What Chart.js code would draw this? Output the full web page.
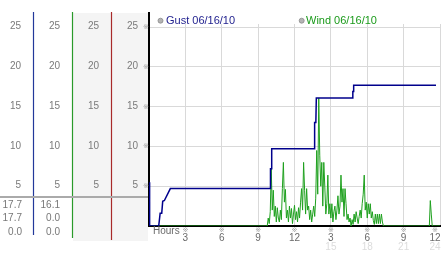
<!DOCTYPE html>
<html>
<head>
<meta charset="utf-8">
<script src="https://cdn.jsdelivr.net/npm/chart.js@4.4.1/dist/chart.umd.min.js"></script>
<style>
html, body { margin: 0; padding: 0; background: #fff; }
</style>
</head>
<body>
<canvas id="myChart" width="442" height="253"></canvas>
<script>
//gust for the day (running max), hours after midnight
var gustHours = [0, 0.05, 0.8, 0.92, 1.05, 1.13, 1.27, 1.76, 10.0, 10.02, 10.1, 10.12, 13.64, 13.66, 13.76, 13.8, 16.79, 16.81, 16.86, 16.88, 23.67];
var gustSpeed = [5.5, 0, 0, 1.6, 1.6, 3.1, 3.2, 4.7, 4.7, 7.2, 7.2, 9.7, 9.7, 13.0, 13.0, 16.1, 16.1, 16.9, 16.9, 17.7, 17.7];
//wind readings every 5 minutes starting 9:45
var windStart = 9.75;
var windStepMinutes = 5;
var windSpeed = [
  0, 1.0, 0.3, 1.8, 7.2, 2.0, 4.5, 1.2, 2.5, 0.5, 2.3, 1.0, 0.5, 2.0, 0.8, 4.7,
  8.0, 3.0, 4.6, 1.0, 2.0, 0.5, 2.5, 1.0, 2.2, 0.3, 1.5, 2.6, 0.8, 1.8, 0.5, 2.3,
  1.0, 3.0, 4.7, 2.0, 8.0, 4.5, 1.5, 4.7, 2.0, 2.5, 0.8, 2.0, 0.5, 1.5, 2.5, 1.2,
  3.5, 9.5, 4.0, 16.1, 8.9, 5.0, 8.0, 2.5, 8.0, 4.9, 1.5, 2.8, 6.4, 1.5, 2.8, 1.0,
  2.8, 0.5, 1.8, 2.5, 0.8, 2.0, 3.8, 1.5, 2.5, 6.4, 3.0, 4.7, 1.2, 4.7, 2.8, 0.8,
  1.5, 0.5, 1.0, 0.0, 0.8, 0.2, 1.5, 0.5, 1.8, 1.0, 0.3, 1.2, 2.0, 1.0, 2.8, 4.0,
  6.4, 2.0, 3.0, 1.0, 2.8, 1.5, 2.8, 1.0, 1.8, 0.7, 0.2, 1.5, 0.3, 1.5, 0.3, 1.5,
  0.3, 1.5, 0.5, 0
];
//calm part of the day and the one late reading
var windOtherHours = [0, 23.12, 23.2, 23.28, 23.36, 24];
var windOtherSpeed = [0, 0, 3.2, 1.5, 0, 0];

var seriesNames = ['Gust 06/16/10', 'Wind 06/16/10'];
var yTicks = [5, 10, 15, 20, 25];
var hourTicks = [3, 6, 9, 12, 15, 18, 21, 24];
var hourLabels = ['3', '6', '9', '12', '3', '6', '9', '12'];
var hourLabels24 = ['', '', '', '', '15', '18', '21', '24'];
var gustStats = ['17.7', '17.7', '0.0'];
var windStats = ['16.1', '0.0', '0.0'];

var FONT = '"Liberation Sans", Arial, sans-serif';

var gustPoints = gustHours.map(function (h, i) { return { x: h, y: gustSpeed[i] }; });
var windPoints = windSpeed.map(function (v, i) { return { x: windStart + i * windStepMinutes / 60, y: v }; });
windOtherHours.forEach(function (h, i) { windPoints.push({ x: h, y: windOtherSpeed[i] }); });
windPoints.sort(function (a, b) { return a.x - b.x; });

//draws the left value columns, legend and hour labels
var panelPlugin = {
  id: 'panel',
  beforeDraw: function (chart) {
    var c = chart.ctx, area = chart.chartArea;
    c.save();
    c.fillStyle = '#f4f4f4';
    c.fillRect(73, 13, area.left - 74, 228);
    c.restore();
  },
  afterDraw: function (chart) {
    var c = chart.ctx, area = chart.chartArea, ys = chart.scales.y, xs = chart.scales.x;
    c.save();
    //column lines
    var cols = [[33.5, '#22389a', 235], [72.5, '#2a9a2a', 238], [111.5, '#a82a2a', 240]];
    cols.forEach(function (col) {
      c.strokeStyle = col[1];
      c.lineWidth = 1.2;
      c.beginPath();
      c.moveTo(col[0], 12);
      c.lineTo(col[0], col[2]);
      c.stroke();
    });
    //axis line reaching up past the grid
    c.strokeStyle = '#000';
    c.lineWidth = 2;
    c.beginPath();
    c.moveTo(area.left, 12);
    c.lineTo(area.left, area.top);
    c.stroke();
    //separator above the stats
    c.fillStyle = '#aaaaaa';
    c.fillRect(0, 196, area.left - 1, 2);

    //y labels in each column
    c.font = '10px ' + FONT;
    c.textAlign = 'right';
    c.textBaseline = 'middle';
    var rights = [21, 60, 99, 138];
    yTicks.forEach(function (v) {
      var py = ys.getPixelForValue(v);
      c.fillStyle = '#7a7a7a';
      rights.forEach(function (r) { c.fillText(String(v), r, py - 0.5); });
      c.fillStyle = '#a0a0a0';
      c.font = '7px "DejaVu Sans", sans-serif';
      c.textAlign = 'center';
      c.fillText('\u203B', 146, py);
      c.font = '10px ' + FONT;
      c.textAlign = 'right';
    });
    //stats
    c.fillStyle = '#777';
    var rows = [205, 218.5, 232];
    rows.forEach(function (ry, i) {
      c.fillText(gustStats[i], 22, ry);
      c.fillText(windStats[i], 60, ry);
    });

    //legend
    var legend = [[160.5, 166, '#1c1c8c'], [301.7, 306, '#1a9a1a']];
    legend.forEach(function (l, i) {
      c.beginPath();
      c.arc(l[0], 20.7, 2.5, 0, Math.PI * 2);
      c.fillStyle = '#b4b4b4';
      c.fill();
      c.strokeStyle = '#8a8a8a';
      c.lineWidth = 0.8;
      c.stroke();
      c.font = '11px ' + FONT;
      c.textAlign = 'left';
      c.fillStyle = l[2];
      c.fillText(seriesNames[i], l[1], 21);
    });

    //hour labels
    c.textAlign = 'left';
    c.fillStyle = '#6a6a6a';
    c.font = '10px ' + FONT;
    c.fillText('Hours', area.left + 4, 231.5);
    hourTicks.forEach(function (h, i) {
      var px = Math.min(xs.getPixelForValue(h), 435);
      c.textAlign = 'center';
      c.font = '7px "DejaVu Sans", sans-serif';
      c.fillStyle = '#a0a0a0';
      c.fillText('\u203B', Math.min(px, 436.5), 230.5);
      c.font = '10px ' + FONT;
      c.fillStyle = '#6a6a6a';
      c.fillText(hourLabels[i], px, 238.5);
      if (hourLabels24[i]) {
        c.fillStyle = '#dcdcdc';
        c.fillText(hourLabels24[i], px, 247);
      }
    });
    c.restore();
  }
};

var ctx = document.getElementById('myChart');
var myChart = new Chart(ctx, {
  type: 'line',
  data: {
    datasets: [{
      label: seriesNames[0],
      data: gustPoints,
      borderColor: '#00008c',
      borderWidth: 1.5,
      pointRadius: 0,
      tension: 0
    }, {
      label: seriesNames[1],
      data: windPoints,
      borderColor: '#1ea01e',
      borderWidth: 1,
      pointRadius: 0,
      tension: 0
    }]
  },
  options: {
    responsive: false,
    maintainAspectRatio: false,
    devicePixelRatio: 1,
    animation: false,
    layout: { padding: { left: 0, right: 2, top: 24, bottom: 27 } },
    plugins: { legend: { display: false }, tooltip: { enabled: false } },
    scales: {
      x: {
        type: 'linear',
        min: 0,
        max: 24,
        afterBuildTicks: function (s) { s.ticks = [0].concat(hourTicks).map(function (v) { return { value: v }; }); },
        afterFit: function (s) { s.height = 0; },
        ticks: { display: false },
        grid: {
          drawTicks: false,
          color: function (c) { return c.tick && c.tick.value === 0 ? 'rgba(0,0,0,0)' : '#d9d9d9'; }
        },
        border: { color: '#000', width: 2 }
      },
      y: {
        min: 0,
        max: 25.4,
        afterBuildTicks: function (s) { s.ticks = [0].concat(yTicks).map(function (v) { return { value: v }; }); },
        afterFit: function (s) { s.width = 149; },
        ticks: { display: false },
        grid: {
          drawTicks: false,
          color: function (c) { return c.tick && c.tick.value === 0 ? 'rgba(0,0,0,0)' : '#d9d9d9'; }
        },
        border: { color: '#000', width: 2 }
      }
    }
  },
  plugins: [panelPlugin]
});
</script>
</body>
</html>
